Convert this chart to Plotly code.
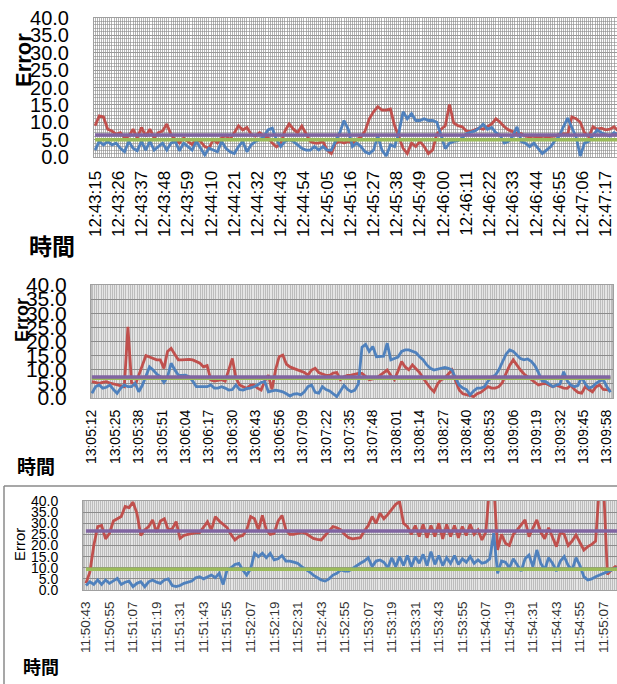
import numpy as np
import plotly.graph_objects as go

# ---------------- data ----------------
STEP = 2  # seconds between samples

labels1 = ["12:43:15","12:43:26","12:43:37","12:43:48","12:43:59","12:44:10","12:44:21","12:44:32",
           "12:44:43","12:44:54","12:45:05","12:45:16","12:45:27","12:45:38","12:45:49","12:46:00",
           "12:46:11","12:46:22","12:46:33","12:46:44","12:46:55","12:47:06","12:47:17"]
labels2 = ["13:05:12","13:05:25","13:05:38","13:05:51","13:06:04","13:06:17","13:06:30","13:06:43",
           "13:06:56","13:07:09","13:07:22","13:07:35","13:07:48","13:08:01","13:08:14","13:08:27",
           "13:08:40","13:08:53","13:09:06","13:09:19","13:09:32","13:09:45","13:09:58"]
labels3 = ["11:50:43","11:50:55","11:51:07","11:51:19","11:51:31","11:51:43","11:51:55","11:52:07",
           "11:52:19","11:52:31","11:52:43","11:52:55","11:53:07","11:53:19","11:53:31","11:53:43",
           "11:53:55","11:54:07","11:54:19","11:54:31","11:54:43","11:54:55","11:55:07"]

red1 = [9.0, 11.8, 11.5, 8.0, 7.5, 6.5, 7.0, 5.5, 6.0, 8.0,
        5.5, 8.5, 6.0, 8.0, 5.5, 7.0, 7.5, 9.5, 6.5, 5.0,
        4.0, 5.5, 4.5, 3.6, 5.0, 4.5, 3.0, 2.5, 5.0, 4.0,
        5.5, 6.2, 5.0, 7.0, 9.0, 7.8, 8.5, 6.5, 6.0, 7.0,
        6.0, 5.6, 4.0, 2.9, 4.0, 7.5, 9.5, 8.0, 7.0, 8.9,
        6.5, 4.5, 4.0, 4.0, 4.5, 2.0, 1.0, 4.0, 4.5, 4.0,
        4.5, 4.0, 5.0, 5.8, 7.5, 11.0, 13.0, 14.5, 13.5, 13.5,
        13.8, 9.0, 5.8, 2.5, 1.0, 4.0, 3.0, 4.5, 3.0, 1.0,
        2.0, 6.6, 8.0, 9.0, 15.1, 9.8, 9.0, 8.7, 7.5, 7.3,
        7.8, 8.3, 8.0, 8.7, 9.5, 11.0, 10.0, 8.7, 7.8, 7.3,
        6.8, 6.7, 6.0, 5.8, 6.0, 5.5, 6.0, 5.8, 5.8, 6.0,
        6.5, 6.7, 6.5, 11.5, 11.0, 10.0, 7.0, 5.8, 8.7, 8.0,
        8.3, 7.8, 8.0, 8.7, 7.5]
blue1 = [2.0, 4.5, 3.5, 4.5, 3.5, 4.0, 2.5, 1.5, 4.5, 2.5,
         1.8, 4.5, 2.0, 4.5, 2.0, 3.0, 4.0, 2.0, 4.0, 4.5,
         1.8, 4.0, 3.0, 2.0, 4.5, 2.5, 0.6, 2.5, 2.0, 1.5,
         4.5, 2.5, 1.5, 1.0, 3.0, 4.5, 1.5, 3.5, 4.5, 5.0,
         5.9, 7.8, 8.3, 5.0, 3.0, 4.5, 5.0, 4.5, 3.5, 2.5,
         2.0, 2.0, 3.0, 2.0, 3.0, 2.0, 2.0, 4.7, 7.0, 10.5,
         8.0, 3.0, 4.0, 3.0, 1.5, 1.0, 2.0, 6.0, 2.0, 0.3,
         3.5, 3.0, 7.0, 13.0, 11.0, 12.5, 10.5, 10.5, 11.0, 10.5,
         10.5, 10.0, 6.0, 2.4, 4.0, 4.5, 4.7, 5.5, 6.7, 7.0,
         7.5, 8.3, 9.4, 8.0, 8.5, 7.0, 6.2, 4.0, 4.5, 6.0,
         8.7, 4.5, 4.0, 3.0, 4.0, 2.5, 1.0, 2.0, 3.0, 4.7,
         6.0, 8.7, 11.2, 8.5, 5.8, 0.3, 4.0, 4.5, 6.0, 7.8,
         7.0, 6.5, 6.0, 7.0, 6.5]
purple1 = 6.3
green1 = 5.0

red2 = [5.8, 5.5, 5.2, 5.5, 5.8, 5.3, 5.0, 4.6, 4.2, 4.0,
        25.2, 5.5, 4.5, 8.1, 11.0, 15.0, 14.5, 14.0, 13.5, 13.5,
        10.5, 16.5, 17.6, 15.5, 13.5, 13.5, 13.6, 13.7, 13.5, 13.0,
        12.3, 11.0, 11.5, 6.4, 6.0, 6.2, 6.5, 6.0, 10.0, 14.0,
        7.0, 4.6, 4.0, 3.4, 4.5, 4.6, 3.5, 2.8, 6.0, 8.1,
        3.0, 10.0, 14.6, 15.2, 12.0, 11.0, 10.5, 10.0, 9.3, 9.0,
        8.1, 9.9, 10.5, 9.0, 8.5, 8.0, 8.0, 8.8, 9.0, 6.5,
        7.5, 8.0, 8.1, 8.5, 8.7, 8.7, 7.5, 6.5, 6.8, 7.0,
        8.0, 9.0, 9.9, 8.0, 6.5, 9.5, 12.9, 11.0, 10.0, 11.7,
        10.5, 9.0, 7.0, 5.2, 3.5, 2.2, 5.0, 6.5, 7.0, 8.5,
        9.9, 6.0, 2.8, 1.5, 1.1, 0.8, 0.5, 1.5, 2.0, 3.0,
        4.0, 3.5, 3.5, 4.0, 5.5, 8.7, 11.5, 13.5, 11.5, 9.9,
        8.5, 7.5, 6.5, 5.5, 4.6, 5.0, 5.2, 4.5, 4.0, 4.5,
        4.0, 3.5, 3.4, 4.5, 3.0, 2.0, 1.7, 4.0, 3.0, 2.2,
        4.0, 4.6, 3.0, 2.8, 2.8]
blue2 = [1.7, 4.0, 4.6, 3.5, 3.8, 4.6, 3.0, 1.7, 3.5, 4.6,
         4.0, 4.0, 5.2, 2.2, 4.5, 8.0, 11.0, 9.9, 8.5, 7.5,
         5.5, 7.5, 12.3, 10.0, 8.1, 8.0, 8.1, 7.5, 6.0, 4.0,
         4.0, 4.2, 4.0, 4.6, 3.5, 3.5, 4.0, 3.5, 2.8, 3.0,
         4.6, 3.0, 2.8, 3.3, 3.5, 4.0, 4.6, 5.5, 5.8, 2.2,
         2.5, 2.8, 2.5, 2.2, 1.5, 0.7, 1.4, 1.5, 1.1, 2.2,
         4.0, 4.6, 2.0, 1.7, 4.0, 3.0, 2.5, 1.5, 0.5, 2.5,
         4.5, 3.0, 2.2, 2.8, 5.0, 18.0, 19.0, 16.5, 18.2, 14.6,
         14.6, 14.8, 19.4, 13.5, 14.0, 14.5, 16.5, 17.0, 17.0, 16.4,
         16.0, 14.6, 13.5, 11.7, 10.5, 9.9, 10.2, 10.5, 10.8, 10.5,
         9.9, 7.0, 4.6, 3.5, 3.0, 1.1, 2.5, 3.5, 3.5, 4.0,
         6.0, 7.5, 8.0, 10.0, 12.9, 15.5, 17.0, 16.5, 15.2, 14.0,
         13.5, 13.8, 13.0, 11.5, 9.0, 6.0, 5.8, 5.0, 4.0, 4.6,
         5.0, 9.3, 6.0, 4.6, 4.0, 4.5, 7.5, 5.0, 3.5, 4.0,
         5.2, 6.0, 6.5, 4.0, 2.0]
purple2 = 7.4
green2 = 7.0

red3 = [3.0, 8.0, 20.0, 28.5, 29.0, 23.0, 25.5, 31.0, 32.0, 33.0,
        37.5, 37.0, 39.5, 34.5, 24.5, 27.0, 28.5, 31.5, 26.0, 31.0,
        32.0, 27.0, 27.5, 30.7, 23.2, 24.5, 25.0, 25.5, 25.8, 25.8,
        28.0, 30.7, 27.0, 33.0, 31.0, 29.5, 28.0, 25.0, 22.5, 24.0,
        24.5, 27.0, 33.0, 32.0, 27.0, 33.5, 27.0, 25.0, 25.5, 31.0,
        33.5, 27.0, 25.0, 25.0, 25.5, 26.0, 25.5, 24.5, 23.2, 22.8,
        22.5, 24.5, 26.5, 28.5, 28.0, 27.0, 25.0, 23.5, 23.0, 23.2,
        23.5, 26.5, 29.0, 33.0, 30.0, 34.5, 32.0, 34.0, 36.5, 38.5,
        39.7, 30.0, 28.5, 25.0, 29.0, 24.0, 29.5, 23.5, 29.0, 24.0,
        30.0, 23.0, 29.5, 24.0, 29.0, 23.5, 28.5, 24.5, 29.5, 25.0,
        27.0, 22.5, 26.0, 48.0, 48.0, 18.0, 25.0, 21.0, 20.0, 25.0,
        27.0, 29.0, 31.5, 24.0, 28.0, 31.5, 26.0, 23.0, 28.0, 24.0,
        19.5, 26.0, 25.0, 20.0, 22.0, 24.7, 21.0, 18.0, 19.5, 20.5,
        22.0, 48.0, 48.0, 7.0, 9.0, 10.5, 10.0]
blue3 = [2.0, 3.7, 2.5, 4.5, 2.5, 4.5, 3.0, 4.0, 5.2, 2.5,
         3.5, 4.0, 1.5, 3.0, 3.7, 1.5, 3.7, 4.5, 3.5, 3.0,
         4.5, 5.0, 2.0, 1.5, 2.0, 3.0, 3.5, 4.0, 5.5, 6.0,
         5.0, 6.0, 6.7, 5.5, 7.5, 2.5, 9.0, 10.0, 11.5, 12.0,
         9.0, 6.7, 9.5, 16.5, 15.0, 16.5, 14.5, 16.5, 13.5, 14.0,
         15.5, 13.0, 13.0, 12.5, 12.0, 10.5, 9.5, 8.2, 6.7, 5.5,
         4.5, 4.0, 5.0, 6.7, 7.5, 9.0, 8.5, 8.5, 9.8, 11.0,
         12.0, 13.0, 14.5, 10.5, 13.0, 13.5, 12.5, 10.0, 14.5, 10.5,
         15.0, 11.0, 15.5, 10.5, 15.0, 12.0, 16.0, 11.0, 17.2, 11.5,
         15.5, 11.0, 14.5, 12.0, 15.5, 11.5, 14.0, 12.5, 15.0, 12.0,
         13.5, 12.0, 12.5, 14.0, 25.5, 7.5, 13.0, 12.5, 10.0, 14.0,
         11.5, 8.5, 14.0, 15.7, 10.5, 18.0, 12.0, 9.0, 14.5, 12.0,
         8.5, 13.0, 15.0, 11.0, 9.0, 14.5, 11.0, 6.0, 4.5, 5.0,
         6.0, 6.7, 7.5, 8.2, 9.0, 9.7, 10.0]
purple3 = 26.5
green3 = 9.3

y_ticks = [0, 5, 10, 15, 20, 25, 30, 35, 40]

RED, BLUE, PURPLE, GREEN = "#C0504D", "#4F81BD", "#8064A2", "#9BBB59"

W, H = 617, 684
def px(x): return x / W
def py(y): return 1 - y / H

def secs(lbl):
    h, m, s = map(int, lbl.split(":"))
    return h * 3600 + m * 60 + s

panels = [
    dict(red=red1, blue=blue1, purple=purple1, green=green1, labels=labels1,
         xdom=[px(94), 1.0], ydom=[py(157), py(18)], xr=[-0.5, 247.4],
         yfont=dict(family="Liberation Sans Narrow, Liberation Sans, Arial", size=20, color="#000"),
         xfont=dict(family="Liberation Sans, Arial", size=17, color="#000"),
         ylen=20, xlen=6, bg="#ffffff", minorx="rgba(130,130,130,0.6)",
         minory=dict(dtick=1, color="rgba(140,140,140,0.6)"), grid="#999999", border="#a0a0a0"),
    dict(red=red2, blue=blue2, purple=purple2, green=green2, labels=labels2,
         xdom=[px(91), px(613)], ydom=[py(398), py(285)], xr=[-0.5, 289.4],
         yfont=dict(family="Liberation Sans Narrow, Liberation Sans, Arial", size=21, color="#000"),
         xfont=dict(family="Liberation Sans, Arial", size=14, color="#000"),
         ylen=19, xlen=5, bg="#bdbdbd", minorx="rgba(255,255,255,0.6)",
         minory=None, grid="#8c8c8c", border="#a0a0a0"),
    dict(red=red3, blue=blue3, purple=purple3, green=green3, labels=labels3,
         xdom=[px(83), 1.0], ydom=[py(590), py(501)], xr=[-1.5, 270.9],
         yfont=dict(family="Liberation Sans, Arial", size=14, color="#000"),
         xfont=dict(family="Liberation Sans, Arial", size=13.5, color="#333"),
         ylen=21, xlen=5, bg="#bdbdbd", minorx="rgba(255,255,255,0.6)",
         minory=None, grid="#8c8c8c", border="#a0a0a0"),
]

fig = go.Figure()
shapes = []
for i, p in enumerate(panels, start=1):
    sfx = "" if i == 1 else str(i)
    xa, ya = "x" + sfx, "y" + sfx
    t = np.arange(len(p["red"])) * STEP
    t0 = secs(p["labels"][0])
    tickvals = [secs(l) - t0 for l in p["labels"]]
    fig.add_trace(go.Scatter(x=t, y=p["red"], mode="lines", line=dict(color=RED, width=2.8),
                             xaxis=xa, yaxis=ya, showlegend=False))
    fig.add_trace(go.Scatter(x=t, y=p["blue"], mode="lines", line=dict(color=BLUE, width=2.8),
                             xaxis=xa, yaxis=ya, showlegend=False))
    fig.add_trace(go.Scatter(x=t, y=[p["green"]] * len(t), mode="lines", line=dict(color=GREEN, width=3.5),
                             xaxis=xa, yaxis=ya, showlegend=False))
    fig.add_trace(go.Scatter(x=t, y=[p["purple"]] * len(t), mode="lines", line=dict(color=PURPLE, width=3.5),
                             xaxis=xa, yaxis=ya, showlegend=False))

    xaxis = dict(domain=p["xdom"], anchor=ya, range=p["xr"], tickmode="array", automargin=False,
                 tickvals=tickvals, ticktext=p["labels"], tickangle=-90, tickfont=p["xfont"],
                 ticks="outside", ticklen=p["xlen"], tickcolor="rgba(0,0,0,0)",
                 showgrid=False, zeroline=False, showline=True, mirror=True,
                 linecolor=p["border"], linewidth=1,
                 minor=dict(tickmode="linear", tick0=0, dtick=1, showgrid=True,
                            gridcolor=p["minorx"], gridwidth=1, ticks=""))
    yaxis = dict(domain=p["ydom"], anchor=xa, range=[0, 40], tickmode="array", automargin=False,
                 tickvals=y_ticks, ticktext=[f"{v:.1f}" for v in y_ticks], tickfont=p["yfont"],
                 ticks="outside", ticklen=p["ylen"], tickcolor="rgba(0,0,0,0)",
                 showgrid=True, gridcolor=p["grid"], gridwidth=1, zeroline=False,
                 showline=True, mirror=True, linecolor=p["border"], linewidth=1)
    if p["minory"]:
        yaxis["minor"] = dict(tickmode="linear", tick0=0, dtick=p["minory"]["dtick"], showgrid=True,
                              gridcolor=p["minory"]["color"], gridwidth=1, ticks="")
    fig.layout["xaxis" + sfx] = xaxis
    fig.layout["yaxis" + sfx] = yaxis
    shapes.append(dict(type="rect", xref=xa + " domain", yref=ya + " domain", x0=0, x1=1, y0=0, y1=1,
                       fillcolor=p["bg"], line=dict(width=0), layer="below"))

# outer frame (left and top edges) of the third chart
shapes.append(dict(type="line", xref="paper", yref="paper", x0=px(4), x1=1.0, y0=py(486), y1=py(486),
                   line=dict(color="#8a8a8a", width=1.5)))
shapes.append(dict(type="line", xref="paper", yref="paper", x0=px(4), x1=px(4), y0=py(486), y1=0.0,
                   line=dict(color="#8a8a8a", width=1.5)))

ann = [
    dict(text="<b>Error</b>", x=px(23), y=py(60), textangle=-90,
         font=dict(family="Liberation Sans, Arial", size=22, color="#000")),
    dict(text="<b>時間</b>", x=px(52), y=py(245),
         font=dict(family="Noto Sans CJK JP", size=23, color="#000")),
    dict(text="<b>Error</b>", x=px(22), y=py(320), textangle=-90,
         font=dict(family="Liberation Sans, Arial", size=18, color="#000")),
    dict(text="<b>時間</b>", x=px(36), y=py(465),
         font=dict(family="Noto Sans CJK JP", size=19, color="#000")),
    dict(text="Error", x=px(19), y=py(545), textangle=-90,
         font=dict(family="Liberation Sans, Arial", size=15, color="#000")),
    dict(text="<b>時間</b>", x=px(41), y=py(666),
         font=dict(family="Noto Sans CJK JP", size=18, color="#000")),
]
for a in ann:
    a.update(xref="paper", yref="paper", showarrow=False, xanchor="center", yanchor="middle")

fig.update_layout(width=W, height=H, margin=dict(l=0, r=0, t=0, b=0, autoexpand=False),
                  paper_bgcolor="white", plot_bgcolor="white",
                  shapes=shapes, annotations=ann, showlegend=False)

fig.write_html("out.html", config={"displayModeBar": False},
               post_script="document.body.style.margin='0';document.body.style.overflow='hidden';")
